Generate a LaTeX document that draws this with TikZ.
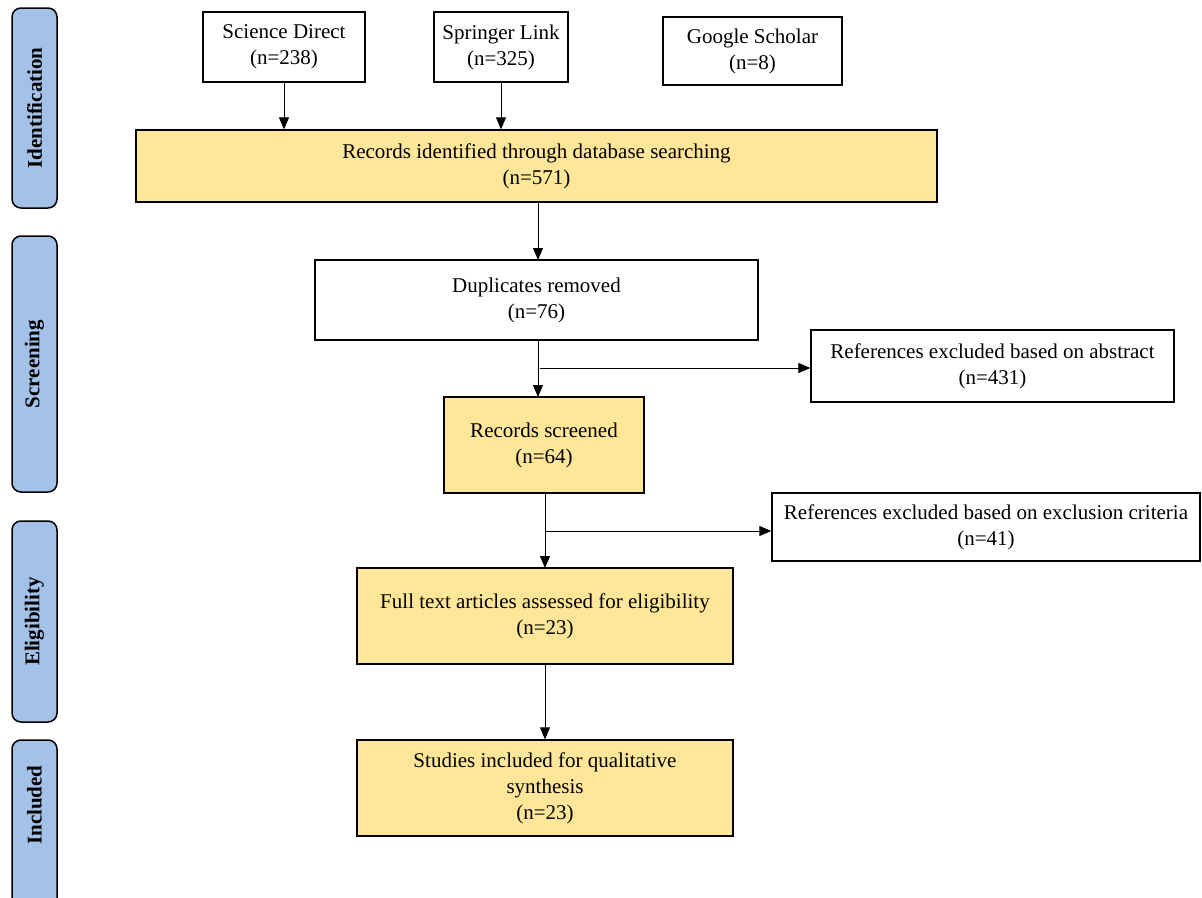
\documentclass[tikz,border=0pt]{standalone}
\usepackage{fontspec}
\setmainfont{Liberation Serif}
\usetikzlibrary{arrows.meta}
\definecolor{boxyellow}{HTML}{FFE699}
\definecolor{phaseblue}{HTML}{A4C2E8}
\tikzset{
  box/.style={draw, line width=1.3pt, align=center, inner sep=0pt},
  hit/.style={box, fill=boxyellow},
  phase/.style={draw, line width=1.5pt, fill=phaseblue, rounded corners=9pt,
    rotate=90, inner sep=0pt, minimum height=45,
    font=\fontsize{21}{26}\selectfont\bfseries},
  flow/.style={-{Triangle[length=12pt,width=10pt]}, line width=0.9pt},
}
\begin{document}
\begin{tikzpicture}[x=1pt,y=-1pt,font=\fontsize{21}{26}\selectfont]
\useasboundingbox[fill=white] (0,0) rectangle (1202,897);
% phases on the left
\node[phase, minimum width=200] (pid) at (34.5,108) {Identification};
\node[phase, minimum width=256] (pscr) at (34.5,364) {Screening};
\node[phase, minimum width=201] (pelg) at (34.5,621.5) {Eligibility};
\node[phase, minimum width=170] (pinc) at (34.5,825) {};
\node[rotate=90, font=\fontsize{21}{26}\selectfont\bfseries] (pinctxt) at (34.5,805) {Included};

% sources
\node[box, minimum width=162, minimum height=70] (sd) at (284,47) {Science Direct\\(n=238)};
\node[box, minimum width=134, minimum height=70] (sl) at (501,47) {Springer Link\\(n=325)};
\node[box, minimum width=179, minimum height=68] (gs) at (752.5,51) {Google Scholar\\(n=8)};

\node[hit, minimum width=801, minimum height=72] (rid) at (536.5,166) {Records identified through database searching\\(n=571)};
\node[box, minimum width=443, minimum height=80] (dup) at (536.5,300) {Duplicates removed\\(n=76)};
\node[box, minimum width=363, minimum height=72] (abs) at (992.5,366) {References excluded based on abstract\\(n=431)};
\node[hit, minimum width=200, minimum height=96] (scr) at (544,445) {Records screened\\(n=64)};
\node[box, minimum width=428, minimum height=68] (excl) at (986,527) {References excluded based on exclusion criteria\\(n=41)};
\node[hit, minimum width=376, minimum height=96] (full) at (545,616) {Full text articles assessed for eligibility\\(n=23)};
\node[hit, minimum width=376, minimum height=96] (incl) at (545,788) {Studies included for qualitative\\synthesis\\(n=23)};

% arrows
\draw[flow] (sd.south) -- (sd.south |- rid.north);
\draw[flow] (sl.south) -- (sl.south |- rid.north);
\draw[flow] (538,202) -- (538,260);
\draw[flow] (538,340) -- (538,397);
\coordinate (b1) at (540,368);
\draw[flow] (b1) -- (b1 -| abs.west);
\draw[flow] (545,493) -- (545,568);
\coordinate (b2) at (545,531);
\draw[flow] (b2) -- (b2 -| excl.west);
\draw[flow] (full.south) -- (incl.north);
\end{tikzpicture}
\end{document}
